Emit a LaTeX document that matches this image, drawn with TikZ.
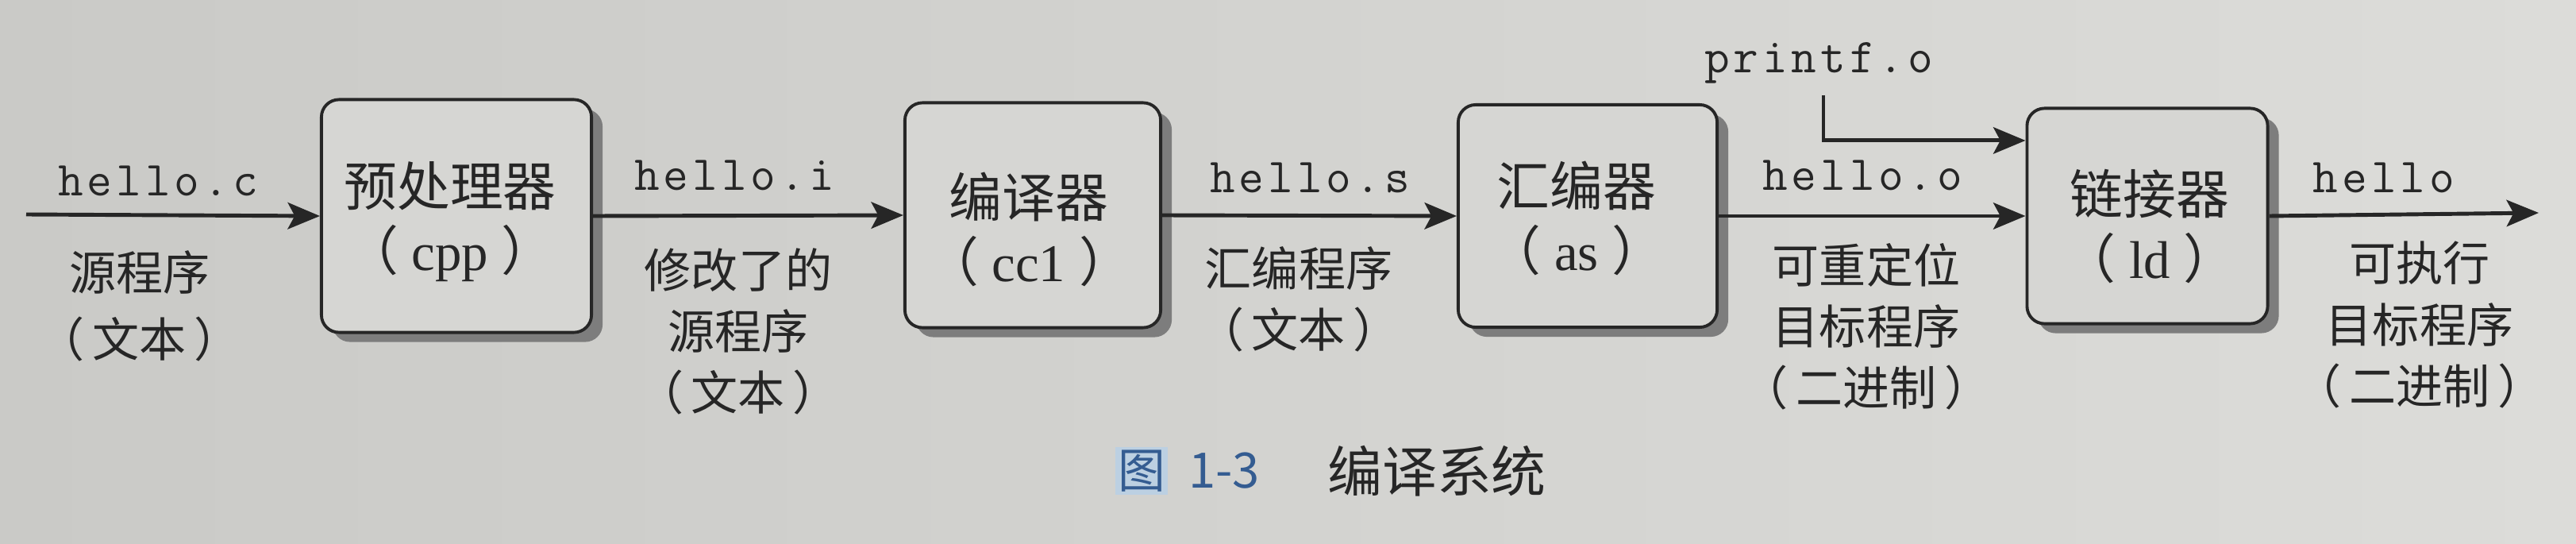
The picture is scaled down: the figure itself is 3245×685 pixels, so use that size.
\documentclass[tikz,border=0pt]{standalone}
\usepackage{fontspec}
\newfontfamily\mono{Latin Modern Mono}[LetterSpace=8.0]
\newfontfamily\cjk{Noto Sans CJK SC}
\newfontfamily\lat{Liberation Serif}
\usetikzlibrary{arrows.meta,shadows}
\definecolor{paper}{RGB}{214,214,211}
\definecolor{paperL}{RGB}{202,202,199}
\definecolor{paperR}{RGB}{220,220,217}
\definecolor{ink}{RGB}{38,38,38}
\definecolor{shade}{RGB}{125,125,125}
\definecolor{capblue}{RGB}{52,92,145}
\definecolor{caphl}{RGB}{188,208,226}
\begin{document}
\begin{tikzpicture}[x=0.01cm,y=-0.01cm,
  proc/.style={draw=ink, line width=1.1pt, rounded corners=0.22cm, fill=paper, inner sep=0pt,
    drop shadow={shadow xshift=0.14cm, shadow yshift=-0.12cm, fill=shade, opacity=1}},
  proctext/.style={align=center, text=ink, inner sep=0pt,
    font=\cjk\fontsize{19pt}{23pt}\selectfont},
  flow/.style={draw=ink, line width=1.4pt, -{Stealth[length=11.5pt,width=9.5pt,inset=2.5pt]}},
  file/.style={font=\mono\fontsize{17.5pt}{20pt}\selectfont, text=ink, inner sep=0pt, anchor=base},
  note/.style={font=\cjk\fontsize{16.8pt}{21.9pt}\selectfont, text=ink, align=center, inner sep=0pt},
]
\useasboundingbox (0,0) rectangle (3245,685);
\shade[left color=paperL, right color=paperR] (0,0) rectangle (3245,685);

% processing boxes
\node[proc, minimum width=3.40cm, minimum height=2.93cm] (b1) at (575,272) {};
\node[proc, minimum width=3.22cm, minimum height=2.83cm] (b2) at (1301,271) {};
\node[proc, minimum width=3.26cm, minimum height=2.80cm] (b3) at (2000,272) {};
\node[proc, minimum width=3.03cm, minimum height=2.71cm] (b4) at (2705,272) {};
\node[proctext] (t1) at (567,279) {预处理器\\（\hspace{0.25em}{\lat cpp}\hspace{0.25em}）};
\node[proctext] (t2) at (1296,289) {编译器\\（\hspace{0.25em}{\lat cc1}\hspace{0.25em}）};
\node[proctext] (t3) at (1986,275) {汇编器\\（\hspace{0.25em}{\lat as}\hspace{0.25em}）};
\node[proctext] (t4) at (2708,285) {链接器\\（\hspace{0.25em}{\lat ld}\hspace{0.25em}）};

% free ends
\coordinate (start) at (33,270);
\coordinate (finish) at (3198,268);
\coordinate (pf) at (2297,120);

% connectors
\draw[flow] (start) -- (b1.west);
\draw[flow] (b1.east) -- (b2.west);
\draw[flow] (b2.east) -- (b3.west);
\draw[flow] (b3.east) -- (b4.west);
\draw[flow] (b4.east) -- (finish);
\draw[flow] (pf) |- ([yshift=0.95cm]b4.west);

% file names
\node[file] (fc) at (199,247) {hello.c};
\node[file] (fi) at (925,240) {hello.i};
\node[file] (fs) at (1650,242) {hello.s};
\node[file] (fo) at (2346,240) {hello.o};
\node[file] (fe) at (3003,242) {hello};
\node[file] (fp) at (2291,92) {printf.o};

% descriptions
\node[note, font=\cjk\fontsize{16.8pt}{23.9pt}\selectfont] (d1) at (176,385) {源程序\\（\,文本\,）};
\node[note] (d2) at (930,417) {修改了的\\源程序\\（\,文本\,）};
\node[note] (d3) at (1636,377) {汇编程序\\（\,文本\,）};
\node[note] (d4) at (2351,411) {可重定位\\目标程序\\（\,二进制\,）};
\node[note] (d5) at (3048,409) {可执行\\目标程序\\（\,二进制\,）};

% caption
\node[fill=caphl, text=capblue, inner sep=1pt, font=\cjk\fontsize{17pt}{20pt}\selectfont] (cap1) at (1438,593) {图};
\node[text=capblue, inner sep=0pt, font=\cjk\fontsize{17.5pt}{20pt}\selectfont] (cap2) at (1542,593) {1-3};
\node[text=ink, inner sep=0pt, font=\cjk\fontsize{19.6pt}{22pt}\selectfont] (cap3) at (1810,593) {编译系统};
\end{tikzpicture}
\end{document}
